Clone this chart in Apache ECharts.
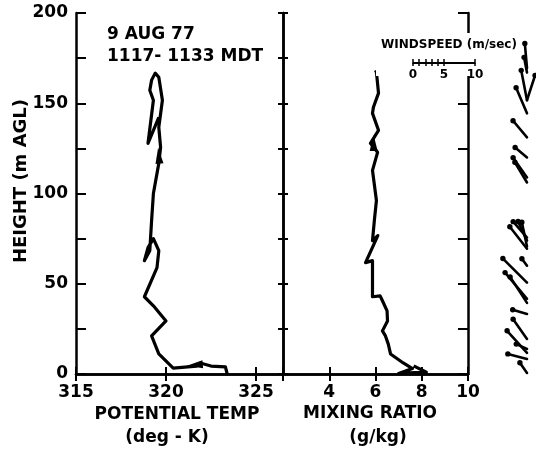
<!DOCTYPE html>
<html>
<head>
<meta charset="utf-8">
<script src="https://cdn.jsdelivr.net/npm/echarts@6/dist/echarts.min.js"></script>
<style>
html,body{margin:0;padding:0;background:#fff;}
#chart{width:536px;height:450px;}
</style>
</head>
<body>
<div id="chart"></div>
<script>
// ---- data ----
const potTempK = [323.4, 323.3, 322.5, 321.9, 321.7, 320.4, 319.6, 319.2, 320.0, 319.3, 318.8, 319.5, 319.6, 319.3, 319.0, 318.8, 319.1, 319.2, 319.3, 319.6, 319.7, 319.6, 319.8, 319.6, 319.4, 319.2, 319.1, 319.3, 319.0, 319.6];
const potHeightM = [0, 3.9, 4.4, 6.1, 4.4, 3.3, 11.1, 21.1, 29.4, 37.8, 42.8, 58.9, 68.3, 75.0, 70.0, 62.8, 68.3, 85.0, 100, 116.7, 125.6, 136.7, 151.7, 164.4, 166.7, 162.8, 157.2, 151.7, 127.8, 142.2];

const mixRatioGkg = [7.65, 8.2, 7.0, 7.6, 7.2, 6.65, 6.55, 6.43, 6.3, 6.52, 6.5, 6.3, 6.2, 5.87, 5.87, 5.57, 6.1, 5.87, 5.95, 6.04, 5.87, 6.09, 5.78, 6.13, 5.87, 5.91, 6.13, 6.04, 6.0];
const mixHeightM = [4.5, 1.0, 0.3, 3.0, 6.1, 11.1, 16.7, 21.1, 23.9, 29.4, 35.0, 40.6, 43.3, 42.8, 62.8, 61.7, 76.7, 73.9, 85.0, 96.1, 112.8, 122.8, 127.8, 135.0, 144.4, 147.8, 155.6, 167.2, 168.3];

// direction arrows drawn on the profiles (value, height, pointing angle in deg)
const potArrowK = [321.6, 319.6];
const potArrowH = [5.0, 121];
const potArrowRot = [95, 5];
const mixArrowGkg = [5.92];
const mixArrowH = [128];

const windHeightM = [169.4, 167.0, 151.7, 151.7, 144.4, 131.1, 120.0, 108.9, 106.1, 75.6, 73.9, 70.6, 69.4, 60.0, 50.6, 41.7, 39.4, 33.3, 19.4, 13.9, 11.7, 8.3, 0.6];
const windSpeedMs = [4.0, 2.5, 4.9, 4.2, 4.5, 3.5, 2.5, 3.9, 3.8, 3.4, 3.4, 4.0, 4.5, 1.4, 5.5, 5.5, 5.0, 2.4, 3.9, 1.9, 4.8, 3.2, 2.0];
const windDirDeg = [355, 349, 349, 18, 337, 320, 310, 325, 329, 319, 335, 348, 322, 324, 315, 320, 327, 286, 325, 294, 318, 285, 325];

const windKeyTicks = [0, 1, 2, 3, 4, 5, 10];
const windKeyLabels = [0, 5, 10];

const titleLines = ['9 AUG 77', '1117- 1133 MDT'];
const heightName = 'HEIGHT (m AGL)';
const tempName = ['POTENTIAL TEMP', '(deg - K)'];
const mixName = ['MIXING RATIO', '(g/kg)'];
const windKeyName = 'WINDSPEED (m/sec)';

// ---- styling / layout ----
const FONT = 'DejaVu Sans';
const BLACK = '#000';
const PX_PER_MS = 6.2;
const WIND_W = 136;
const WIND_ANCHOR = (527 - 400) / PX_PER_MS;

const lbl = (extra) => Object.assign({color: BLACK, fontFamily: FONT, fontWeight: 'bold', fontSize: 17}, extra || {});
const line = {show: true, lineStyle: {color: BLACK, width: 2.5}};
const tickIn = (len) => ({show: true, inside: true, length: len, lineStyle: {color: BLACK, width: 2}});

const chart = echarts.init(document.getElementById('chart'), null, {renderer: 'canvas'});

const option = {
  backgroundColor: '#fff',
  animation: false,
  grid: [
    {left: 76, right: 253, top: 13, bottom: 76},
    {left: 283, right: 68, top: 13, bottom: 76},
    {left: 400, width: WIND_W, top: 13, bottom: 76},
    {left: 413, top: 62, width: 10 * PX_PER_MS, height: 1}
  ],
  xAxis: [
    {gridIndex: 0, type: 'value', position: 'bottom', min: 315, max: 326.5, interval: 5,
     axisLine: line, axisTick: tickIn(7), splitLine: {show: false},
     axisLabel: Object.assign(lbl({margin: 10, showMaxLabel: false}), {formatter: v => (v % 5 === 0 ? String(v) : '')})},
    {gridIndex: 0, type: 'value', position: 'top', min: 315, max: 326.5, interval: 5,
     axisLine: line, axisTick: tickIn(7), splitLine: {show: false}, axisLabel: {show: false}},
    {gridIndex: 1, type: 'value', position: 'bottom', min: 2, max: 10, interval: 2,
     axisLine: line, axisTick: tickIn(7), splitLine: {show: false},
     axisLabel: Object.assign(lbl({margin: 10}), {formatter: v => (v === 2 ? '' : String(v))})},
    {gridIndex: 1, type: 'value', position: 'top', min: 2, max: 10, interval: 2,
     axisLine: line, axisTick: tickIn(7), splitLine: {show: false}, axisLabel: {show: false}},
    {gridIndex: 2, type: 'value', min: 0, max: WIND_W / PX_PER_MS, show: false},
    {gridIndex: 3, type: 'value', position: 'bottom', min: 0, max: 10, z: 60,
     axisLine: {show: true, lineStyle: {color: BLACK, width: 2}},
     axisTick: {show: true, inside: false, length: 3, customValues: windKeyTicks, lineStyle: {color: BLACK, width: 1.5}},
     axisLabel: lbl({fontSize: 12, margin: 6, customValues: windKeyLabels}),
     splitLine: {show: false}},
    {gridIndex: 3, type: 'value', position: 'top', min: 0, max: 10, z: 60,
     axisLine: {show: false},
     axisTick: {show: true, inside: false, length: 3, customValues: windKeyTicks, lineStyle: {color: BLACK, width: 1.5}},
     axisLabel: {show: false}, splitLine: {show: false}}
  ],
  yAxis: [
    {gridIndex: 0, type: 'value', position: 'left', min: 0, max: 200, interval: 25,
     axisLine: line, axisTick: tickIn(10), splitLine: {show: false},
     axisLabel: Object.assign(lbl({margin: 8}), {formatter: v => (v % 50 === 0 ? String(v) : '')})},
    {gridIndex: 0, type: 'value', position: 'right', min: 0, max: 200, interval: 25,
     axisLine: line, axisTick: tickIn(5), splitLine: {show: false}, axisLabel: {show: false}},
    {gridIndex: 1, type: 'value', position: 'left', min: 0, max: 200, interval: 25,
     axisLine: line, axisTick: tickIn(5), splitLine: {show: false}, axisLabel: {show: false}},
    {gridIndex: 1, type: 'value', position: 'right', min: 0, max: 200, interval: 25,
     axisLine: line, axisTick: tickIn(10), splitLine: {show: false}, axisLabel: {show: false}},
    {gridIndex: 2, type: 'value', min: 0, max: 200, show: false},
    {gridIndex: 3, type: 'value', min: 0, max: 1, show: false}
  ],
  series: [
    {type: 'line', xAxisIndex: 0, yAxisIndex: 0, symbol: 'none', z: 5,
     lineStyle: {color: BLACK, width: 3.2, join: 'round'},
     data: potTempK.map((t, i) => [t, potHeightM[i]])},
    {type: 'line', xAxisIndex: 2, yAxisIndex: 2, symbol: 'none', z: 5,
     lineStyle: {color: BLACK, width: 3.2, join: 'round'},
     data: mixRatioGkg.map((q, i) => [q, mixHeightM[i]])},
    {type: 'scatter', xAxisIndex: 0, yAxisIndex: 0, z: 6, symbol: 'triangle', symbolSize: [8, 16],
     symbolRotate: (v, p) => potArrowRot[p.dataIndex],
     itemStyle: {color: BLACK, opacity: 1},
     data: potArrowK.map((t, i) => [t, potArrowH[i]])},
    {type: 'scatter', xAxisIndex: 2, yAxisIndex: 2, z: 6, symbol: 'triangle', symbolSize: [8, 16],
     itemStyle: {color: BLACK, opacity: 1},
     data: mixArrowH.map((h, i) => [mixArrowGkg[i], h])},
    {type: 'custom', xAxisIndex: 4, yAxisIndex: 4, z: 60, clip: false,
     data: windHeightM.map((h, i) => [h, windSpeedMs[i], windDirDeg[i]]),
     renderItem: function (params, api) {
       const h = api.value(0), spd = api.value(1), dir = api.value(2) * Math.PI / 180;
       const a = api.coord([WIND_ANCHOR, h]);
       const b = api.coord([WIND_ANCHOR + spd, h]);
       const len = b[0] - a[0];
       const tx = a[0] + len * Math.sin(dir), ty = a[1] - len * Math.cos(dir);
       return {type: 'group', children: [
         {type: 'line', shape: {x1: a[0], y1: a[1], x2: tx, y2: ty}, style: {stroke: BLACK, lineWidth: 2.6, lineCap: 'round'}},
         {type: 'circle', shape: {cx: tx, cy: ty, r: 2.7}, style: {fill: BLACK}}
       ]};
     }}
  ],
  graphic: [
    {type: 'rect', z: 50, shape: {x: 376, y: 33, width: 145, height: 43}, style: {fill: '#fff'}},
    {type: 'text', z: 61, x: 449, y: 45, style: {text: windKeyName, fill: BLACK, font: 'bold 12px "DejaVu Sans"', align: 'center', verticalAlign: 'middle'}},
    {type: 'text', z: 61, x: 107, y: 35, style: {text: titleLines[0], fill: BLACK, font: 'bold 17px "DejaVu Sans"', align: 'left', verticalAlign: 'middle'}},
    {type: 'text', z: 61, x: 107, y: 57, style: {text: titleLines[1], fill: BLACK, font: 'bold 17px "DejaVu Sans"', align: 'left', verticalAlign: 'middle'}},
    {type: 'text', z: 61, x: 177, y: 415, style: {text: tempName[0], fill: BLACK, font: 'bold 17px "DejaVu Sans"', align: 'center', verticalAlign: 'middle'}},
    {type: 'text', z: 61, x: 167, y: 438, style: {text: tempName[1], fill: BLACK, font: 'bold 17px "DejaVu Sans"', align: 'center', verticalAlign: 'middle'}},
    {type: 'text', z: 61, x: 370, y: 414, style: {text: mixName[0], fill: BLACK, font: 'bold 17px "DejaVu Sans"', align: 'center', verticalAlign: 'middle'}},
    {type: 'text', z: 61, x: 378, y: 438, style: {text: mixName[1], fill: BLACK, font: 'bold 17px "DejaVu Sans"', align: 'center', verticalAlign: 'middle'}},
    {type: 'text', z: 61, x: 21, y: 181, rotation: Math.PI / 2, style: {text: heightName, fill: BLACK, font: 'bold 18px "DejaVu Sans"', align: 'center', verticalAlign: 'middle'}}
  ]
};
chart.setOption(option);
</script>
</body>
</html>
